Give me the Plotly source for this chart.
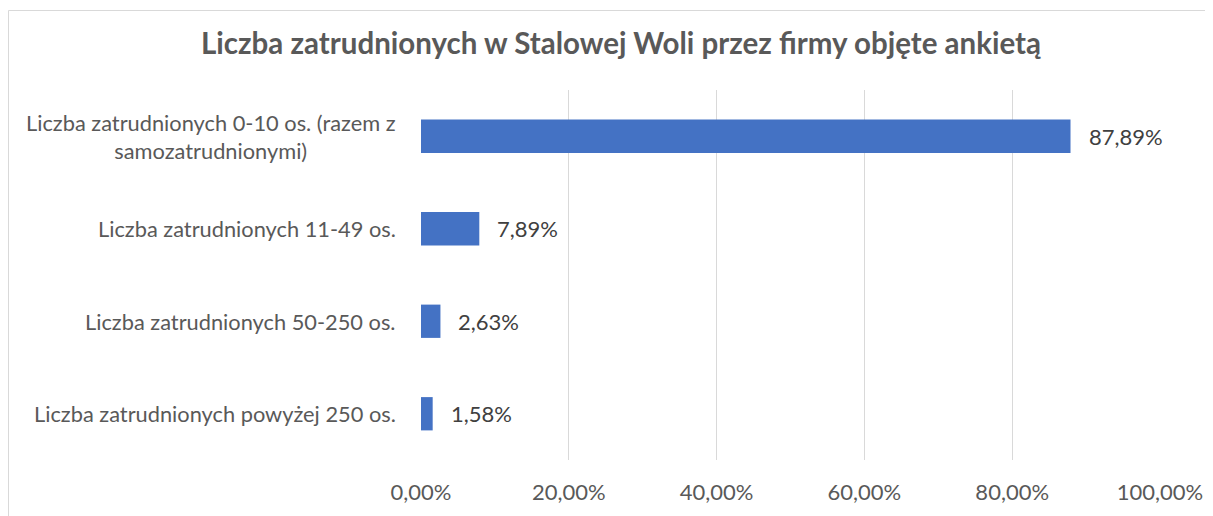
import plotly.graph_objects as go

categories = [
    "Liczba zatrudnionych 0-10 os. (razem z<br>samozatrudnionymi)",
    "Liczba zatrudnionych 11-49 os.",
    "Liczba zatrudnionych 50-250 os.",
    "Liczba zatrudnionych powyżej 250 os.",
]
values = [0.8789, 0.0789, 0.0263, 0.0158]
title_text = "Liczba zatrudnionych w Stalowej Woli przez firmy objęte ankietą"

OFF = 8  # page body margin
W, H = 1213, 516
L = 421 - OFF
PR = 1160 - OFF
T = 90 - OFF
PB = 460 - OFF
R, B = W - PR, H - PB
pw, ph = PR - L, PB - T


def px(x):
    return (x - OFF - L) / pw


def py(y):
    return (PB - (y - OFF)) / ph


FONT = "Lato"
fig = go.Figure()
fig.add_trace(go.Bar(
    x=values, y=list(range(len(categories))), orientation="h",
    marker=dict(color="#4472C4", line=dict(width=0)),
    width=0.36, hoverinfo="skip",
))

ann = []
for i, (c, v) in enumerate(zip(categories, values)):
    ann.append(dict(x=0, y=i, xref="x", yref="y", text=c, showarrow=False,
                    xanchor="right", yanchor="middle", align="center", xshift=-23,
                    font=dict(family=FONT, size=21.8, color="#595959")))
    lbl = f"{v*100:.2f}".replace(".", ",") + "%"
    ann.append(dict(x=v, y=i, xref="x", yref="y", text=lbl, showarrow=False,
                    xanchor="left", yanchor="middle", xshift=16,
                    font=dict(family=FONT, size=22, color="#404040")))
ann.append(dict(x=px(621), y=py(42), xref="paper", yref="paper", text=f"<b>{title_text}</b>",
                showarrow=False, xanchor="center", yanchor="middle",
                font=dict(family=FONT, size=29.5, color="#595959")))

fig.update_layout(
    width=W, height=H, autosize=False,
    margin=dict(l=L, r=R, t=T, b=B, pad=0),
    paper_bgcolor="white", plot_bgcolor="white",
    separators=", ",
    showlegend=False,
    annotations=ann,
    xaxis=dict(range=[0, 1.0], tickvals=[0, 0.2, 0.4, 0.6, 0.8, 1.0], tickformat=".2%",
               showgrid=True, gridcolor="#D9D9D9", gridwidth=1, zeroline=False,
               showline=False, ticks="", ticklabelstandoff=17,
               tickfont=dict(family=FONT, size=22, color="#595959"), fixedrange=True),
    yaxis=dict(range=[len(categories) - 0.5, -0.5], showticklabels=False, showgrid=False,
               zeroline=False, showline=False, ticks="", fixedrange=True),
    shapes=[dict(type="rect", xref="paper", yref="paper",
                 x0=px(8.5), x1=px(1209.5),
                 y0=py(540), y1=py(10.5),
                 line=dict(color="#D9D9D9", width=1), fillcolor="rgba(0,0,0,0)", layer="below")],
)
fig.write_html("out.html")
